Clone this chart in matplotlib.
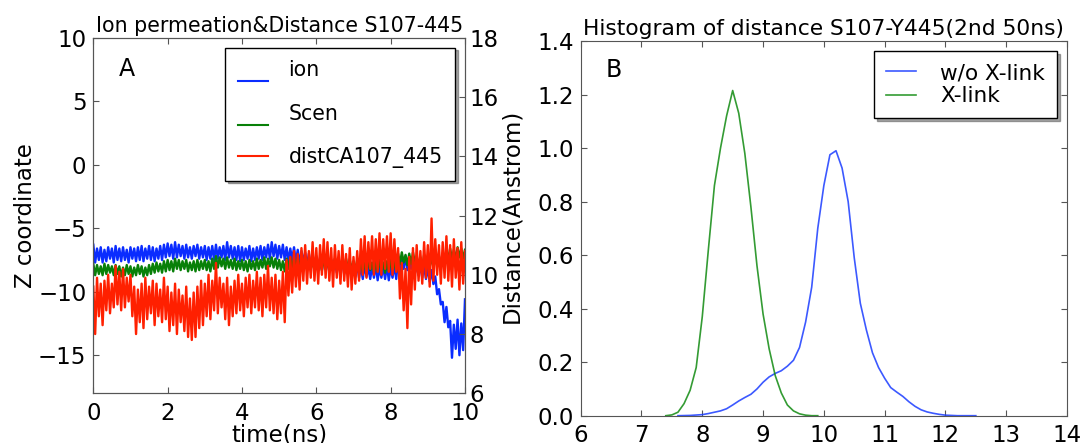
import numpy as np
import matplotlib
matplotlib.use("Agg")
import matplotlib.pyplot as plt

# ---------------- data ----------------
# Panel A: envelopes of the noisy traces, sampled every 0.1 ns
# (hi = upper edge of the trace, lo = lower edge half a step later)
time_step = 0.1
ion_hi = [-6.3, -6.6, -6.5, -6.7, -6.5, -6.6, -6.4, -6.6, -6.5, -6.7,
          -6.5, -6.6, -6.5, -6.4, -6.6, -6.4, -6.5, -6.6, -6.4, -6.3,
          -6.2, -6.3, -6.1, -6.3, -6.4, -6.3, -6.5, -6.4, -6.3, -6.5,
          -6.4, -6.5, -6.4, -6.3, -6.5, -6.4, -6.1, -6.4, -6.5, -6.4,
          -6.5, -6.6, -6.4, -6.6, -6.5, -6.4, -6.5, -6.3, -6.1, -6.3,
          -6.4, -6.3, -6.5, -6.6, -6.5, -6.7, -6.8, -6.9, -7.0, -7.1,
          -7.2, -7.3, -7.2, -7.4, -7.5, -7.4, -7.6, -7.5, -7.7, -7.8,
          -7.9, -7.8, -8.0, -7.9, -8.1, -8.0, -7.9, -8.1, -8.0, -7.9,
          -8.1, -7.9, -7.4, -7.3, -7.2, -7.4, -7.6, -7.8, -7.9, -8.0,
          -8.1, -8.3, -8.8, -9.8, -10.8, -11.2, -12.3, -12.6, -12.2, -12.5,
          -10.6]
ion_lo = [-7.7, -7.5, -7.7, -7.6, -7.4, -7.7, -7.5, -7.6, -7.5, -7.7,
          -7.4, -7.6, -7.5, -7.6, -7.4, -7.5, -7.6, -7.4, -7.5, -7.3,
          -7.2, -7.4, -7.3, -7.2, -7.4, -7.3, -7.4, -7.2, -7.4, -7.3,
          -7.5, -7.4, -7.5, -7.4, -7.3, -7.5, -7.3, -7.4, -7.5, -7.6,
          -7.5, -7.4, -7.6, -7.5, -7.4, -7.5, -7.3, -7.4, -7.2, -7.4,
          -7.3, -7.5, -7.6, -7.5, -7.7, -7.8, -7.7, -7.9, -8.1, -8.0,
          -8.2, -8.3, -8.2, -8.4, -8.3, -8.5, -8.4, -8.6, -8.5, -8.7,
          -8.8, -8.9, -9.0, -8.8, -9.0, -8.9, -9.1, -8.9, -9.0, -9.1,
          -8.9, -9.0, -8.5, -8.2, -8.3, -8.2, -8.6, -8.7, -8.9, -9.0,
          -9.2, -9.4, -10.2, -11.0, -12.4, -12.8, -15.2, -14.5, -15.0, -14.6]

scen_hi = [-7.8, -7.9, -8.0, -7.8, -7.9, -8.0, -7.9, -8.0, -8.1, -7.9,
           -8.0, -8.1, -7.9, -8.0, -8.1, -7.9, -7.8, -7.7, -7.8, -7.6,
           -7.5, -7.6, -7.4, -7.5, -7.6, -7.5, -7.7, -7.6, -7.5, -7.6,
           -7.5, -7.6, -7.4, -7.2, -7.3, -7.4, -7.3, -7.5, -7.4, -7.6,
           -7.5, -7.6, -7.5, -7.6, -7.4, -7.5, -7.3, -7.4, -7.3, -7.4,
           -7.5, -7.6, -7.4, -7.3, -7.4, -7.3, -7.4, -7.3, -7.4, -7.5,
           -7.4, -7.5, -7.4, -7.6, -7.5, -7.4, -7.6, -7.5, -7.4, -7.5,
           -7.6, -7.5, -7.7, -7.6, -7.5, -7.7, -7.6, -7.5, -7.7, -7.6,
           -7.5, -7.6, -7.0, -6.9, -7.1, -7.0, -6.9, -7.2, -7.3, -7.1,
           -7.2, -7.3, -7.1, -7.2, -7.0, -6.7, -6.6, -6.7, -6.5, -6.6,
           -6.7]
scen_lo = [-8.7, -8.6, -8.7, -8.6, -8.5, -8.7, -8.6, -8.8, -8.7, -8.6,
           -8.8, -8.7, -8.6, -8.8, -8.7, -8.6, -8.5, -8.4, -8.5, -8.4,
           -8.3, -8.4, -8.2, -8.3, -8.2, -8.4, -8.3, -8.4, -8.3, -8.2,
           -8.3, -8.4, -8.2, -8.1, -8.0, -8.2, -8.1, -8.2, -8.3, -8.2,
           -8.3, -8.4, -8.2, -8.3, -8.2, -8.1, -8.2, -8.0, -8.1, -8.2,
           -8.3, -8.4, -8.2, -8.1, -8.2, -8.1, -8.2, -8.1, -8.2, -8.3,
           -8.2, -8.3, -8.2, -8.4, -8.3, -8.2, -8.4, -8.3, -8.2, -8.3,
           -8.4, -8.3, -8.5, -8.4, -8.3, -8.5, -8.4, -8.3, -8.5, -8.4,
           -8.3, -8.4, -7.8, -7.7, -7.9, -7.8, -7.7, -8.0, -8.1, -7.9,
           -8.0, -8.1, -7.9, -8.0, -7.8, -7.5, -7.4, -7.5, -7.3, -7.4]

dist_hi = [9.6, 9.9, 9.7, 9.8, 10.0, 9.7, 10.3, 10.1, 10.2, 9.9,
           10.0, 9.6, 9.5, 9.7, 9.9, 9.6, 9.8, 9.7, 9.5, 9.9,
           9.6, 9.4, 9.7, 9.5, 9.3, 9.6, 9.2, 9.4, 9.6, 9.8,
           9.7, 10.0, 9.8, 10.4, 9.9, 9.7, 9.9, 9.6, 9.8, 10.0,
           9.7, 9.9, 10.0, 9.8, 10.1, 9.9, 10.0, 10.3, 9.9, 10.0,
           9.8, 10.1, 10.5, 10.6, 10.8, 10.7, 10.9, 11.0, 10.8, 11.1,
           10.9, 11.0, 11.2, 11.1, 10.9, 11.0, 10.8, 11.0, 10.7, 10.9,
           10.6, 10.8, 11.2, 11.3, 11.1, 11.3, 11.2, 11.4, 11.2, 11.3,
           11.4, 11.2, 10.9, 10.4, 10.2, 10.6, 10.9, 11.0, 10.8, 11.1,
           11.0, 11.9, 11.2, 11.0, 11.1, 11.3, 11.0, 11.2, 10.9, 11.1,
           10.8]
dist_lo = [8.0, 8.6, 8.3, 8.8, 8.7, 8.9, 9.0, 8.8, 8.9, 9.1,
           8.6, 8.0, 8.4, 8.2, 8.5, 8.7, 8.3, 8.6, 8.4, 8.5,
           8.1, 8.3, 8.0, 8.4, 8.1, 7.9, 7.8, 7.9, 8.2, 8.3,
           8.6, 8.5, 8.8, 8.7, 8.9, 8.5, 8.3, 8.6, 8.7, 8.8,
           8.6, 8.9, 8.7, 8.9, 8.8, 8.6, 8.9, 8.8, 8.7, 8.5,
           8.7, 8.4, 9.3, 9.4, 9.6, 9.5, 9.8, 9.7, 9.9, 9.8,
           9.7, 10.0, 9.9, 9.8, 9.6, 9.9, 9.7, 9.8, 9.6, 9.5,
           9.7, 9.8, 10.0, 9.9, 10.2, 10.0, 10.1, 10.0, 10.2, 10.1,
           10.0, 10.1, 9.2, 8.8, 8.2, 9.0, 9.5, 9.8, 9.7, 9.9,
           9.6, 9.8, 10.0, 9.7, 9.9, 9.8, 9.6, 9.9, 9.5, 9.7]

# Panel B: histogram curves
dist_bins_noxl = [7.6, 7.8, 8.0, 8.1, 8.2, 8.3, 8.4, 8.5, 8.6, 8.7, 8.8, 8.9,
                  9.0, 9.1, 9.2, 9.3, 9.4, 9.5, 9.6, 9.7, 9.8, 9.9, 10.0,
                  10.1, 10.2, 10.3, 10.4, 10.5, 10.6, 10.7, 10.8, 10.9, 11.0,
                  11.1, 11.2, 11.3, 11.4, 11.5, 11.6, 11.7, 11.8, 11.9, 12.0,
                  12.2, 12.5]
dens_noxl = [0.0, 0.001, 0.004, 0.008, 0.013, 0.018, 0.026, 0.04, 0.055,
             0.068, 0.08, 0.1, 0.125, 0.145, 0.158, 0.168, 0.185, 0.207,
             0.255, 0.35, 0.48, 0.70, 0.86, 0.975, 0.99, 0.925, 0.80, 0.59,
             0.42, 0.32, 0.235, 0.18, 0.14, 0.105, 0.088, 0.072, 0.052,
             0.035, 0.022, 0.014, 0.009, 0.005, 0.002, 0.0, 0.0]
dist_bins_xl = [7.4, 7.5, 7.6, 7.7, 7.8, 7.9, 8.0, 8.1, 8.2, 8.3, 8.4, 8.5,
                8.6, 8.7, 8.8, 8.9, 9.0, 9.1, 9.2, 9.3, 9.4, 9.5, 9.6, 9.7,
                9.8, 9.9]
dens_xl = [0.0, 0.003, 0.013, 0.045, 0.095, 0.18, 0.37, 0.62, 0.86, 1.0,
           1.12, 1.215, 1.13, 0.98, 0.78, 0.56, 0.38, 0.25, 0.15, 0.085,
           0.04, 0.018, 0.007, 0.002, 0.0, 0.0]

labels_A = ["ion", "Scen", "distCA107_445"]
labels_B = ["w/o X-link", "X-link"]


def zigzag(hi, lo, step):
    """Alternate upper/lower envelope samples (hi at k*step, lo half a step later)."""
    t, v = [], []
    for k in range(len(hi)):
        t.append(k * step)
        v.append(hi[k])
        if k < len(lo):
            t.append(k * step + step / 2)
            v.append(lo[k])
    return np.array(t), np.array(v)


# ---------------- style ----------------
plt.rcParams["font.family"] = ["DejaVu Sans"]
plt.rcParams["font.size"] = 16.5
plt.rcParams["xtick.direction"] = "in"
plt.rcParams["ytick.direction"] = "in"
plt.rcParams["xtick.major.size"] = 4
plt.rcParams["ytick.major.size"] = 4
plt.rcParams["xtick.major.pad"] = 6
plt.rcParams["ytick.major.pad"] = 5
plt.rcParams["axes.edgecolor"] = "#555555"
plt.rcParams["xtick.color"] = "#555555"
plt.rcParams["ytick.color"] = "#555555"
plt.rcParams["xtick.labelcolor"] = "black"
plt.rcParams["ytick.labelcolor"] = "black"

W, H = 1082, 443
fig = plt.figure(figsize=(W / 100, H / 100), dpi=100)


def px_axes(x0, y0, x1, y1):
    return fig.add_axes([x0 / W, 1 - y1 / H, (x1 - x0) / W, (y1 - y0) / H])


BLUE = "#0a2cff"
GREEN = "#088008"
RED = "#ff2000"

# ---------------- panel A ----------------
axA = px_axes(93.3, 37.7, 465, 393.3)
axA2 = axA.twinx()

t_ion, v_ion = zigzag(ion_hi, ion_lo, time_step)
t_scen, v_scen = zigzag(scen_hi, scen_lo, time_step)
t_dist, v_dist = zigzag(dist_hi, dist_lo, time_step)

l1, = axA.plot(t_ion, v_ion, color=BLUE, lw=1.7, label=labels_A[0])
l2, = axA.plot(t_scen, v_scen, color=GREEN, lw=1.7, label=labels_A[1])
l3, = axA2.plot(t_dist, v_dist, color=RED, lw=1.7, label=labels_A[2])

axA.set_xlim(0, 10)
axA.set_ylim(-18, 10)
axA2.set_ylim(6, 18)
axA.set_xticks([0, 2, 4, 6, 8, 10])
axA.set_yticks([-15, -10, -5, 0, 5, 10])
axA2.set_yticks([6, 8, 10, 12, 14, 16, 18])
axA2.tick_params(axis="y", pad=3)
axA.tick_params(top=True)
axA.set_xlabel("time(ns)", labelpad=-1)
axA.set_ylabel("Z coordinate", labelpad=1)
axA2.set_ylabel("Distance(Anstrom)", labelpad=1)
axA.set_title("Ion permeation&Distance S107-445", fontsize=14.8, pad=4)

legA = axA2.legend([l1, l2, l3], labels_A, loc="upper right",
                   bbox_to_anchor=(0.973, 0.972), borderaxespad=0,
                   fontsize=14.8, labelspacing=1.15, handlelength=1.46,
                   handletextpad=1.02, borderpad=0.6, shadow=True,
                   fancybox=False, framealpha=1, edgecolor="black")
legA.get_frame().set_linewidth(1.0)
for ln, dy in zip(legA.get_lines(), [-9.0, -9.0, 0.0]):
    ln.set_ydata(np.asarray(ln.get_ydata()) + dy)
    ln.set_linewidth(1.5)

axA.text(0.069, 0.892, "A", transform=axA.transAxes, fontsize=17,
         ha="left", va="baseline")

# ---------------- panel B ----------------
axB = px_axes(580.7, 41, 1067, 415.7)
b1, = axB.plot(dist_bins_noxl, dens_noxl, color="#1a3cff", lw=1.2, alpha=0.85)
b2, = axB.plot(dist_bins_xl, dens_xl, color="#108a10", lw=1.2, alpha=0.85)
axB.set_xlim(6, 14)
axB.set_ylim(0, 1.4)
axB.set_xticks(range(6, 15))
axB.set_yticks([0.0, 0.2, 0.4, 0.6, 0.8, 1.0, 1.2, 1.4])
axB.set_yticklabels([f"{v:.1f}" for v in [0.0, 0.2, 0.4, 0.6, 0.8, 1.0, 1.2, 1.4]])
axB.tick_params(top=True, right=True)
axB.set_title("Histogram of distance S107-Y445(2nd 50ns)", fontsize=15.7, pad=4)

legB = axB.legend([b1, b2], labels_B, loc="upper right",
                  bbox_to_anchor=(0.979, 0.973), borderaxespad=0,
                  fontsize=15.6, labelspacing=0.15, handlelength=1.4,
                  handletextpad=1.1, borderpad=0.55, shadow=True,
                  fancybox=False, framealpha=1, edgecolor="black")
legB.get_frame().set_linewidth(1.0)

axB.text(0.051, 0.904, "B", transform=axB.transAxes, fontsize=17,
         ha="left", va="baseline")

fig.savefig("out.png", dpi=100)
